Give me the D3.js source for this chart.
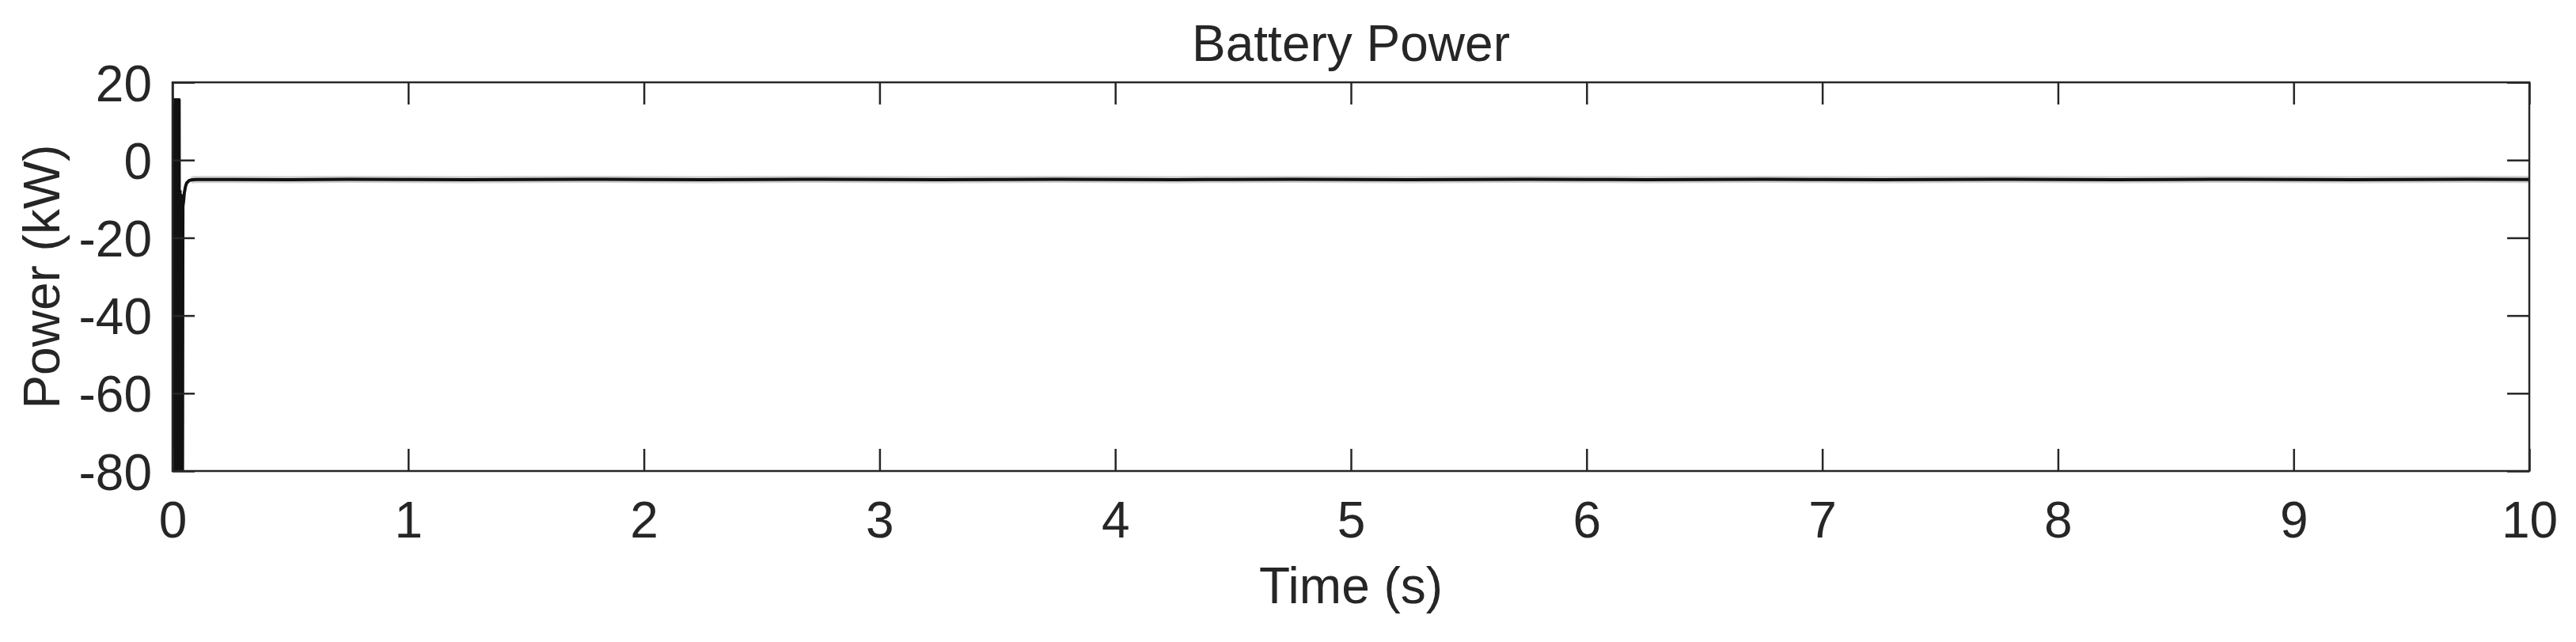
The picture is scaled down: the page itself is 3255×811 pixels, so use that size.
<!DOCTYPE html>
<html>
<head>
<meta charset="utf-8">
<script src="https://cdn.jsdelivr.net/npm/d3@7"></script>
<style>
  html, body { margin: 0; padding: 0; background: #ffffff; }
  svg { display: block; }
  text { font-family: "Liberation Sans", Arial, sans-serif; fill: #262626; }
</style>
</head>
<body>
<svg id="chart" width="3255" height="811"></svg>
<script>
// ---- data ----
const titleText = "Battery Power";
const xLabel = "Time (s)";
const yLabel = "Power (kW)";
const xTicks = [0, 1, 2, 3, 4, 5, 6, 7, 8, 9, 10];
const yTicks = [20, 0, -20, -40, -60, -80];

// start-up transient (fast switching between limits, then recovery)
const transientTime = [0.000, 0.002, 0.004, 0.006, 0.008, 0.010, 0.012, 0.014, 0.016, 0.018,
                       0.020, 0.022, 0.024, 0.026, 0.028, 0.030, 0.032, 0.034, 0.036, 0.038,
                       0.040, 0.042, 0.044, 0.047, 0.050, 0.055, 0.060, 0.070, 0.080, 0.100];
const transientPower = [15.5, -95, 15.5, -95, 15.5, -95, 15.5, -95, 15.5, -95,
                        15.5, -95, 15.5, -95, 15.5, -95, -8, -95, -9, -95,
                        -10, -95, -12, -10.5, -8.5, -6.8, -5.9, -5.3, -5.1, -5.0];

// steady state (noisy line around -5 kW)
const steadyTime = [0.25, 0.5, 0.75, 1.0, 1.25, 1.5, 1.75, 2.0, 2.25, 2.5, 2.75, 3.0, 3.25, 3.5, 3.75,
                    4.0, 4.25, 4.5, 4.75, 5.0, 5.25, 5.5, 5.75, 6.0, 6.25, 6.5, 6.75, 7.0, 7.25, 7.5,
                    7.75, 8.0, 8.25, 8.5, 8.75, 9.0, 9.25, 9.5, 9.75, 10.0];
const steadyPower = [-5.0, -5.05, -4.95, -5.0, -5.05, -5.0, -4.95, -5.0, -5.05, -5.0, -4.95, -5.0, -5.05, -5.0, -4.95,
                     -5.0, -5.05, -5.0, -4.95, -5.0, -5.05, -5.0, -4.95, -5.0, -5.05, -5.0, -4.95, -5.0, -5.05, -5.0,
                     -4.95, -5.0, -5.05, -5.0, -4.95, -5.0, -5.05, -5.0, -4.95, -5.0];

// ---- layout ----
const mLeft = 218, mRight = 3196, mTop = 104, mBottom = 595;
const ink = "#262626";
const tickLen = 28;

const svg = d3.select("#chart");
svg.append("rect").attr("width", 3255).attr("height", 811).attr("fill", "#ffffff");

const x = d3.scaleLinear().domain([0, 10]).range([mLeft, mRight]);
const y = d3.scaleLinear().domain([-80, 20]).range([mBottom, mTop]);

svg.append("defs").append("clipPath").attr("id", "plotClip")
  .append("rect").attr("x", mLeft).attr("y", mTop)
  .attr("width", mRight - mLeft).attr("height", mBottom - mTop);

// ---- data line ----
const pts = transientTime.map((t, i) => [t, transientPower[i]])
  .concat(steadyTime.map((t, i) => [t, steadyPower[i]]));

const line = d3.line().x(d => x(d[0])).y(d => y(d[1]));

const g = svg.append("g").attr("clip-path", "url(#plotClip)");
// faint noise halo
g.append("path").datum(pts.slice(transientTime.length - 2))
  .attr("d", line).attr("fill", "none")
  .attr("stroke", "#777").attr("stroke-opacity", 0.35)
  .attr("stroke-width", 9).attr("stroke-linejoin", "round");
g.append("path").datum(pts)
  .attr("d", line).attr("fill", "none")
  .attr("stroke", "#111").attr("stroke-width", 4)
  .attr("stroke-linejoin", "round");

// ---- axes (MATLAB style: inward ticks on all sides) ----
const fmt = d => String(d);
const axB = d3.axisBottom(x).tickValues(xTicks).tickSizeInner(-tickLen).tickSizeOuter(0).tickFormat(fmt);
const axT = d3.axisTop(x).tickValues(xTicks).tickSizeInner(-tickLen).tickSizeOuter(0).tickFormat("");
const axL = d3.axisLeft(y).tickValues(yTicks).tickSizeInner(-tickLen).tickSizeOuter(0).tickFormat(fmt);
const axR = d3.axisRight(y).tickValues(yTicks).tickSizeInner(-tickLen).tickSizeOuter(0).tickFormat("");

function style(sel) {
  sel.select(".domain").remove();
  sel.selectAll(".tick line").attr("stroke", ink).attr("stroke-width", 2.5);
  sel.selectAll(".tick text").attr("font-family", "Liberation Sans, Arial, sans-serif")
    .attr("font-size", 64).attr("fill", ink);
}

const gB = svg.append("g").attr("transform", `translate(0,${mBottom})`).call(axB).call(style);
gB.selectAll(".tick text").attr("dy", null).attr("y", 84);
const gT = svg.append("g").attr("transform", `translate(0,${mTop})`).call(axT).call(style);
const gL = svg.append("g").attr("transform", `translate(${mLeft},0)`).call(axL).call(style);
gL.selectAll(".tick text").attr("dy", "0.36em").attr("x", -26);
const gR = svg.append("g").attr("transform", `translate(${mRight},0)`).call(axR).call(style);

// box
svg.append("rect").attr("x", mLeft).attr("y", mTop)
  .attr("width", mRight - mLeft).attr("height", mBottom - mTop)
  .attr("fill", "none").attr("stroke", ink).attr("stroke-width", 2.5);

// ---- labels ----
svg.append("text").attr("x", (mLeft + mRight) / 2).attr("y", 77)
  .attr("text-anchor", "middle").attr("font-size", 64).text(titleText);
svg.append("text").attr("x", (mLeft + mRight) / 2).attr("y", 762)
  .attr("text-anchor", "middle").attr("font-size", 64).text(xLabel);
svg.append("text").attr("transform", `translate(75,${(mTop + mBottom) / 2}) rotate(-90)`)
  .attr("text-anchor", "middle").attr("font-size", 64).text(yLabel);
</script>
</body>
</html>
